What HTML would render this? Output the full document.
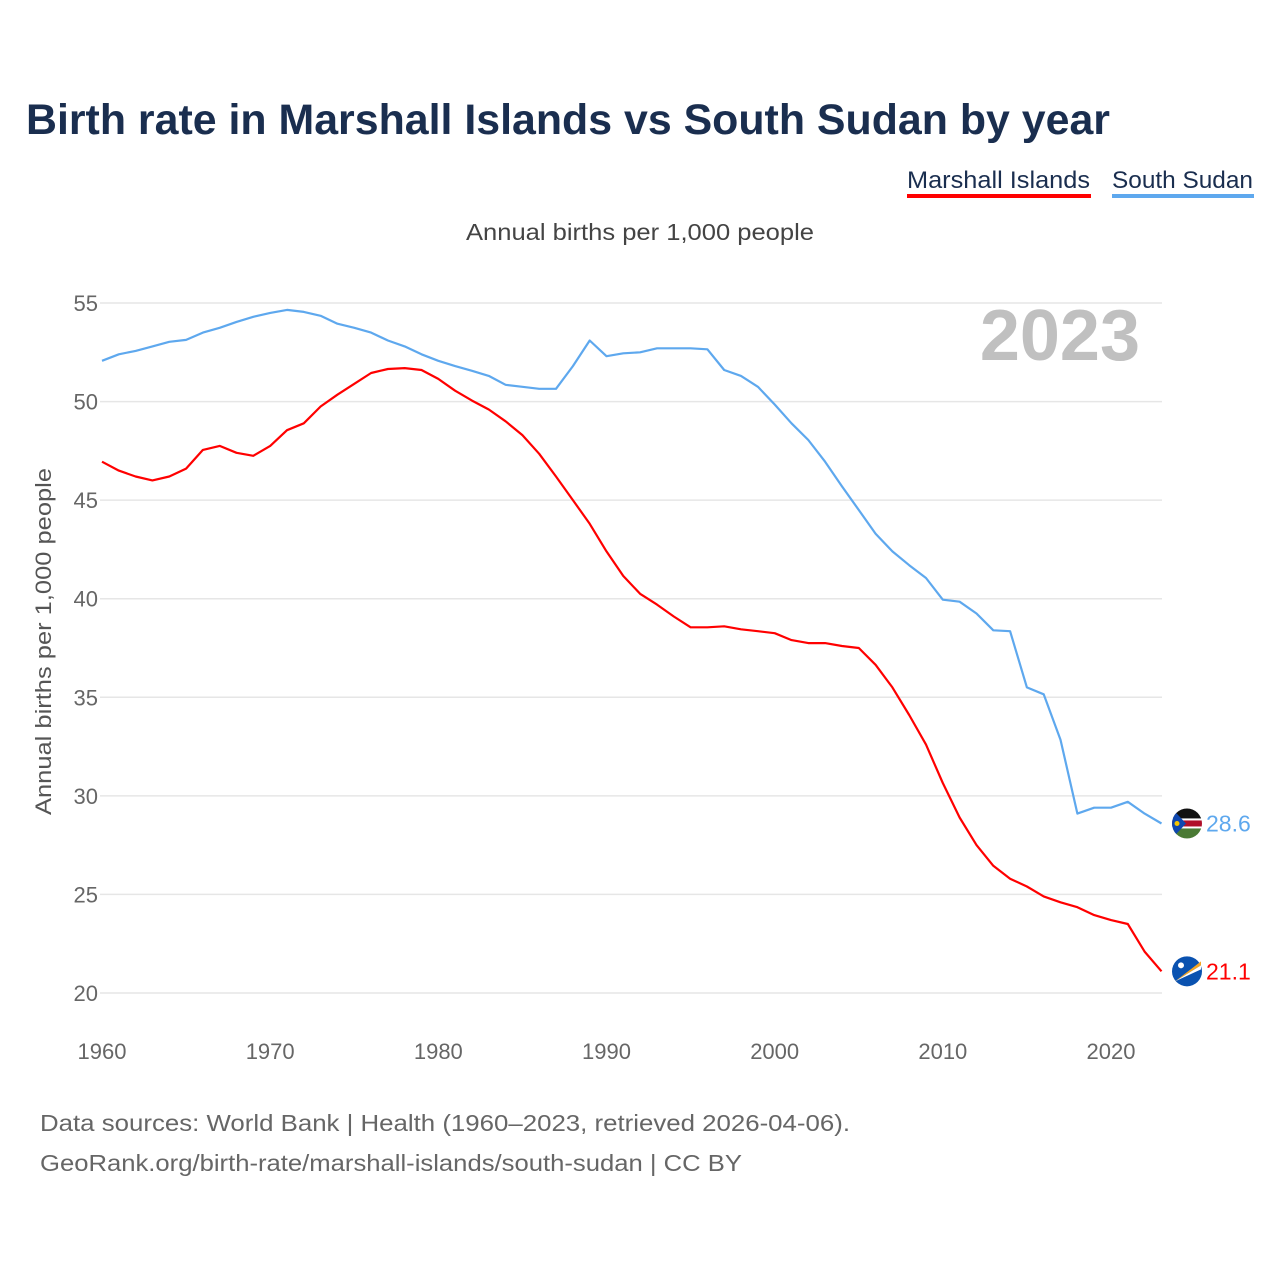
<!DOCTYPE html>
<html><head><meta charset="utf-8">
<style>
body{margin:0;background:#fff;font-family:"Liberation Sans",sans-serif;}
#wrap{position:relative;width:1280px;height:1280px;overflow:hidden;}
</style></head>
<body>
<div id="wrap">
<svg id="chart" width="1280" height="1280" xmlns="http://www.w3.org/2000/svg">
<text x="26" y="134" font-size="43" font-weight="bold" fill="#1a2e4f" textLength="1084" lengthAdjust="spacingAndGlyphs">Birth rate in Marshall Islands vs South Sudan by year</text>
<g>
<text x="907" y="188" font-size="24" fill="#1a2e4f" textLength="183" lengthAdjust="spacingAndGlyphs">Marshall Islands</text>
<rect x="907" y="194" width="184" height="4" fill="#ff0000"/>
</g>
<g>
<text x="1112" y="188" font-size="24" fill="#1a2e4f" textLength="141" lengthAdjust="spacingAndGlyphs">South Sudan</text>
<rect x="1112" y="194" width="142" height="4" fill="#5ea8ee"/>
</g>
<text x="466" y="240" font-size="23" fill="#444" textLength="348" lengthAdjust="spacingAndGlyphs">Annual births per 1,000 people</text>
<text x="1140" y="360" font-size="72" font-weight="bold" fill="#c0c0c0" text-anchor="end">2023</text>
<text transform="translate(51,815) rotate(-90)" font-size="22" fill="#555" textLength="347" lengthAdjust="spacingAndGlyphs">Annual births per 1,000 people</text>
<g id="grid"></g><g id="xaxis"></g><g id="series"></g>
<text x="40" y="1131" font-size="23" fill="#666" textLength="810" lengthAdjust="spacingAndGlyphs">Data sources: World Bank | Health (1960–2023, retrieved 2026-04-06).</text>
<text x="40" y="1171" font-size="23" fill="#666" textLength="702" lengthAdjust="spacingAndGlyphs">GeoRank.org/birth-rate/marshall-islands/south-sudan | CC BY</text>
</svg>
</div>
<script>
const years=[];for(let y=1960;y<=2023;y++)years.push(y);
const yTicks=[20,25,30,35,40,45,50,55];
const xTicks=[1960,1970,1980,1990,2000,2010,2020];
const southSudan=[52.07,52.4,52.57,52.8,53.03,53.13,53.5,53.74,54.04,54.3,54.5,54.65,54.55,54.35,53.95,53.74,53.5,53.1,52.8,52.4,52.07,51.8,51.56,51.3,50.85,50.75,50.65,50.65,51.8,53.1,52.3,52.45,52.5,52.7,52.7,52.7,52.65,51.6,51.3,50.75,49.85,48.9,48.05,46.95,45.7,44.5,43.3,42.4,41.7,41.05,39.95,39.85,39.25,38.4,38.35,35.5,35.15,32.85,29.1,29.4,29.4,29.7,29.1,28.6];
const marshall=[46.95,46.5,46.2,46.0,46.2,46.6,47.55,47.75,47.4,47.25,47.75,48.55,48.9,49.75,50.35,50.9,51.45,51.65,51.7,51.6,51.15,50.55,50.05,49.6,49.0,48.3,47.35,46.2,45.0,43.8,42.4,41.15,40.25,39.7,39.1,38.55,38.55,38.6,38.45,38.35,38.25,37.9,37.75,37.75,37.6,37.5,36.65,35.5,34.1,32.6,30.65,28.9,27.5,26.45,25.8,25.4,24.9,24.6,24.35,23.95,23.7,23.5,22.1,21.1];
const NS='http://www.w3.org/2000/svg';
const X=v=>102+(v-1960)*(1111-102)/60;
const Y=v=>993-(v-20)*(993-303)/35;
function mk(t,a,p){const e=document.createElementNS(NS,t);for(const k in a)e.setAttribute(k,a[k]);p.appendChild(e);return e;}
const grid=document.getElementById('grid');
yTicks.forEach(t=>{
 const l=mk('line',{x1:100,x2:1162,y1:Y(t),y2:Y(t),stroke:'#e6e6e6','stroke-width':1.5},grid);
 
 
 const tx=mk('text',{x:98,y:Y(t)+8,'font-size':22,fill:'#666','text-anchor':'end'},grid);
 tx.textContent=t;
 
 
});
const xa=document.getElementById('xaxis');
xTicks.forEach(t=>{
 const tx=mk('text',{x:X(t),y:1059,'font-size':22,fill:'#666','text-anchor':'middle'},xa);
 tx.textContent=t;
 
 
});
const sg=document.getElementById('series');
function line(data,color,name){
 const d=data.map((v,i)=>(i?'L':'M')+X(years[i]).toFixed(1)+' '+Y(v).toFixed(1)).join(' ');
 const p=mk('path',{d:d,fill:'none',stroke:color,'stroke-width':2.2,'stroke-linejoin':'round'},sg);
 
 
 const last=data[data.length-1];
 const t=mk('text',{x:1206,y:Y(last)+8,'font-size':23,fill:color},sg);
 t.textContent=last.toFixed(1);
 
 
 return Y(last);
}
const ys=line(southSudan,'#5ea8ee','south-sudan');
const ym=line(marshall,'#ff0000','marshall-islands');
const cx=1187;
let f=mk('g',{},sg);


const cp=mk('clipPath',{id:'c1'},f);
mk('circle',{cx:cx,cy:ys,r:15},cp);
const g1=mk('g',{'clip-path':'url(#c1)'},f);
mk('rect',{x:cx-15,y:ys-15,width:30,height:10,fill:'#111'},g1);
mk('rect',{x:cx-15,y:ys-5,width:30,height:10,fill:'#fff'},g1);
mk('rect',{x:cx-15,y:ys-3,width:30,height:6,fill:'#b0102a'},g1);
mk('rect',{x:cx-15,y:ys+5,width:30,height:10,fill:'#4a7a34'},g1);
mk('polygon',{points:`${cx-15},${ys-15} ${cx-1},${ys} ${cx-15},${ys+15}`,fill:'#0f47af'},g1);
mk('circle',{cx:cx-10,cy:ys,r:2.5,fill:'#f5c400'},g1);
f=mk('g',{},sg);


mk('circle',{cx:cx,cy:ym,r:15,fill:'#0a52b0'},f);
mk('polygon',{points:`${cx-12},${ym+10} ${cx+14},${ym-10} ${cx+14},${ym-6}`,fill:'#f5a623'},f);
mk('polygon',{points:`${cx-12},${ym+10} ${cx+14},${ym-6} ${cx+14},${ym-2}`,fill:'#fff'},f);
mk('circle',{cx:cx-6,cy:ym-6,r:3,fill:'#fff'},f);
</script>
</body></html>
